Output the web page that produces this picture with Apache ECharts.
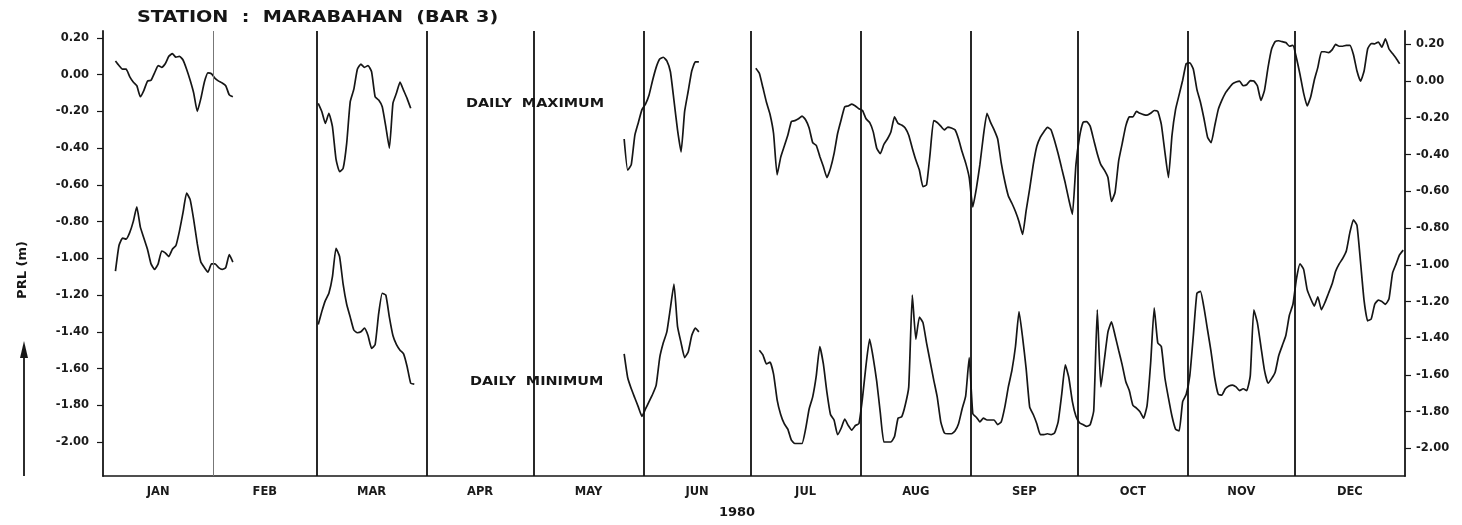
<!DOCTYPE html>
<html>
<head>
<meta charset="utf-8">
<script src="https://cdn.jsdelivr.net/npm/echarts@6/dist/echarts.min.js"></script>
<style>
html,body{margin:0;padding:0;background:#ffffff;}
#chart{width:1462px;height:525px;}
</style>
</head>
<body>
<div id="chart"></div>
<script>
// ---------------- DATA ----------------
const monthNames = ['JAN','FEB','MAR','APR','MAY','JUN','JUL','AUG','SEP','OCT','NOV','DEC'];
const monthDays = [31,29,31,30,31,30,31,31,30,31,30,31]; // 1980 (leap year)
const yTicks = [0.20,0.00,-0.20,-0.40,-0.60,-0.80,-1.00,-1.20,-1.40,-1.60,-1.80,-2.00];

// first day-of-year of each recorded stretch
const maxStart = [4, 61, 147, 184];
const minStart = [4, 61, 147, 185];

// Daily maximum water level (m, PRL)
const maxJan = [0.075,0.05,0.03,0.03,-0.01,-0.04,-0.06,-0.12,-0.085,-0.035,-0.03,0.01,0.05,0.04,0.06,0.10,0.115,0.095,0.10,0.08,0.03,-0.03,-0.10,-0.20,-0.13,-0.04,0.01,0.005,-0.02,-0.035,-0.045,-0.06,-0.11,-0.12];
const maxMar = [-0.156,-0.20,-0.265,-0.21,-0.283,-0.46,-0.528,-0.51,-0.374,-0.147,-0.08,0.03,0.058,0.04,0.05,0.016,-0.12,-0.138,-0.174,-0.283,-0.40,-0.156,-0.10,-0.04,-0.085,-0.13,-0.183];
const maxJun = [-0.35,-0.52,-0.49,-0.33,-0.26,-0.19,-0.16,-0.11,-0.03,0.04,0.085,0.095,0.075,0.016,-0.14,-0.30,-0.42,-0.20,-0.09,0.02,0.07,0.07];
const maxJulDec = [
  // Jul (from 2 Jul)
  0.035,0.008,-0.07,-0.15,-0.215,-0.32,-0.545,-0.45,-0.39,-0.33,-0.255,-0.25,-0.24,-0.225,-0.245,-0.29,-0.37,-0.385,-0.445,-0.50,-0.56,-0.51,-0.43,-0.32,-0.245,-0.175,-0.17,-0.16,-0.17,-0.185,
  // Aug
  -0.195,-0.24,-0.26,-0.31,-0.40,-0.43,-0.38,-0.35,-0.31,-0.23,-0.265,-0.274,-0.29,-0.33,-0.40,-0.465,-0.52,-0.61,-0.60,-0.43,-0.25,-0.26,-0.28,-0.30,-0.285,-0.29,-0.30,-0.35,-0.42,-0.48,-0.56,
  // Sep
  -0.72,-0.62,-0.49,-0.33,-0.21,-0.26,-0.30,-0.35,-0.48,-0.58,-0.66,-0.70,-0.745,-0.80,-0.87,-0.74,-0.62,-0.49,-0.39,-0.34,-0.31,-0.287,-0.30,-0.36,-0.43,-0.51,-0.59,-0.68,-0.76,-0.49,
  // Oct
  -0.34,-0.26,-0.255,-0.28,-0.355,-0.43,-0.49,-0.52,-0.56,-0.69,-0.64,-0.47,-0.375,-0.28,-0.23,-0.23,-0.20,-0.21,-0.217,-0.22,-0.21,-0.195,-0.20,-0.27,-0.42,-0.56,-0.33,-0.19,-0.11,-0.03,0.06,
  // Nov
  0.065,0.03,-0.08,-0.15,-0.24,-0.34,-0.37,-0.28,-0.19,-0.14,-0.10,-0.074,-0.05,-0.04,-0.035,-0.06,-0.055,-0.032,-0.034,-0.06,-0.14,-0.085,0.04,0.14,0.18,0.185,0.18,0.175,0.155,0.16,
  // Dec
  0.09,0.0,-0.10,-0.17,-0.12,-0.03,0.04,0.125,0.125,0.12,0.135,0.165,0.155,0.155,0.16,0.16,0.11,0.02,-0.035,0.02,0.14,0.17,0.168,0.178,0.15,0.195,0.14,0.115,0.09,0.06
];

// Daily minimum water level (m, PRL)
const minJan = [-1.07,-0.93,-0.89,-0.895,-0.86,-0.80,-0.72,-0.83,-0.89,-0.95,-1.03,-1.06,-1.03,-0.96,-0.97,-0.99,-0.95,-0.93,-0.85,-0.75,-0.645,-0.68,-0.79,-0.92,-1.02,-1.05,-1.075,-1.03,-1.03,-1.05,-1.06,-1.05,-0.98,-1.02];
const minMar = [-1.36,-1.29,-1.23,-1.19,-1.10,-0.945,-0.99,-1.14,-1.25,-1.32,-1.39,-1.405,-1.40,-1.38,-1.42,-1.49,-1.47,-1.30,-1.19,-1.20,-1.32,-1.42,-1.47,-1.50,-1.52,-1.59,-1.68,-1.685];
const minJun = [-1.52,-1.65,-1.71,-1.76,-1.81,-1.86,-1.82,-1.78,-1.74,-1.69,-1.54,-1.46,-1.40,-1.27,-1.14,-1.37,-1.46,-1.54,-1.51,-1.42,-1.38,-1.40];
const minJulDec = [
  // Jul (from 3 Jul)
  -1.50,-1.525,-1.575,-1.565,-1.63,-1.77,-1.85,-1.90,-1.93,-1.99,-2.008,-2.008,-2.008,-1.93,-1.82,-1.754,-1.64,-1.48,-1.575,-1.73,-1.85,-1.88,-1.96,-1.925,-1.875,-1.91,-1.935,-1.91,-1.90,
  // Aug
  -1.76,-1.58,-1.44,-1.54,-1.67,-1.84,-2.00,-2.00,-2.00,-1.97,-1.87,-1.863,-1.80,-1.70,-1.20,-1.44,-1.32,-1.35,-1.46,-1.56,-1.66,-1.754,-1.89,-1.95,-1.955,-1.955,-1.94,-1.90,-1.82,-1.75,-1.54,
  // Sep
  -1.845,-1.865,-1.89,-1.87,-1.88,-1.88,-1.88,-1.905,-1.89,-1.81,-1.70,-1.61,-1.48,-1.29,-1.43,-1.60,-1.81,-1.85,-1.90,-1.96,-1.96,-1.955,-1.96,-1.95,-1.89,-1.74,-1.58,-1.65,-1.78,-1.86,
  // Oct
  -1.895,-1.905,-1.915,-1.905,-1.83,-1.28,-1.70,-1.55,-1.40,-1.345,-1.42,-1.50,-1.58,-1.67,-1.72,-1.80,-1.815,-1.835,-1.87,-1.80,-1.57,-1.27,-1.46,-1.48,-1.65,-1.76,-1.86,-1.93,-1.94,-1.78,-1.74,
  // Nov
  -1.64,-1.42,-1.19,-1.18,-1.27,-1.39,-1.51,-1.65,-1.74,-1.745,-1.71,-1.695,-1.69,-1.70,-1.72,-1.71,-1.72,-1.64,-1.28,-1.35,-1.48,-1.61,-1.68,-1.655,-1.62,-1.53,-1.475,-1.42,-1.31,-1.25,
  // Dec
  -1.11,-1.03,-1.06,-1.17,-1.22,-1.26,-1.21,-1.28,-1.24,-1.19,-1.14,-1.07,-1.03,-1.00,-0.96,-0.86,-0.79,-0.82,-1.02,-1.23,-1.34,-1.33,-1.25,-1.227,-1.235,-1.25,-1.22,-1.08,-1.03,-0.98,-0.955
];

// ---------------- CHART ----------------
const maxSegs = [maxJan, maxMar, maxJun, maxJulDec];
const minSegs = [minJan, minMar, minJun, minJulDec];

const boundaries = [];
const mids = [];
let acc = 0.5;
monthDays.forEach((n, i) => {
  mids.push(acc + n / 2);
  acc += n;
  if (i < 11) boundaries.push(acc);
});

const Y_MIN = -2.185, Y_MAX = 0.238, RIGHT_SHIFT = 0.035;
const FONT = 'DejaVu Sans';
const INK = '#161616';

function segData(start, vals) { return vals.map((v, i) => [start + i, v]); }

const lineStyle = { color: INK, width: 1.7 };
const series = [];
maxSegs.forEach((vals, k) => series.push({
  type: 'line', name: 'DAILY MAXIMUM', data: segData(maxStart[k], vals),
  showSymbol: false, symbol: 'none', lineStyle, silent: true, animation: false, smooth: 0.15
}));
minSegs.forEach((vals, k) => series.push({
  type: 'line', name: 'DAILY MINIMUM', data: segData(minStart[k], vals),
  showSymbol: false, symbol: 'none', lineStyle, silent: true, animation: false, smooth: 0.15
}));
series[0].markLine = {
  silent: true, animation: false, symbol: ['none', 'none'],
  label: { show: false },
  lineStyle: { type: 'solid', color: '#111', width: 1.8 },
  data: boundaries.map((b, i) => ({
    xAxis: b,
    lineStyle: i === 0 ? { type: 'solid', color: '#777', width: 1 } : { type: 'solid', color: '#111', width: 1.8 }
  }))
};

const axisLabelStyle = { fontFamily: FONT, fontWeight: 'bold', fontSize: 11.5, color: '#1b1b1b' };

const option = {
  backgroundColor: '#ffffff',
  animation: false,
  grid: { left: 103, right: 57, top: 31, bottom: 49, containLabel: false },
  xAxis: {
    type: 'value', min: 0.5, max: 366.5,
    axisLine: { show: true, onZero: false, lineStyle: { color: INK, width: 1.6 } },
    axisTick: { show: false },
    splitLine: { show: false },
    axisLabel: Object.assign({}, axisLabelStyle, {
      customValues: mids, margin: 10,
      formatter: v => { const i = mids.findIndex(m => Math.abs(m - v) < 0.01); return i >= 0 ? monthNames[i] : ''; }
    })
  },
  yAxis: [
    {
      type: 'value', min: Y_MIN, max: Y_MAX, position: 'left',
      axisLine: { show: true, onZero: false, lineStyle: { color: INK, width: 1.8 } },
      axisTick: { show: true, length: 6, customValues: yTicks, lineStyle: { color: INK, width: 1.2 } },
      splitLine: { show: false },
      axisLabel: Object.assign({}, axisLabelStyle, { customValues: yTicks, margin: 14, formatter: v => v.toFixed(2) })
    },
    {
      type: 'value', min: Y_MIN + RIGHT_SHIFT, max: Y_MAX + RIGHT_SHIFT, position: 'right',
      axisLine: { show: true, onZero: false, lineStyle: { color: INK, width: 1.8 } },
      axisTick: { show: true, length: 6, customValues: yTicks, lineStyle: { color: INK, width: 1.2 } },
      splitLine: { show: false },
      axisLabel: Object.assign({}, axisLabelStyle, { customValues: yTicks, margin: 11, formatter: v => v.toFixed(2) })
    }
  ],
  series: series,
  graphic: [
    { type: 'text', x: 137, y: 18, scaleX: 1.28, silent: true,
      style: { text: 'STATION  :  MARABAHAN  (BAR 3)', font: 'bold 15px "DejaVu Sans"', fill: INK, align: 'left', verticalAlign: 'middle', textAlign: 'left', textVerticalAlign: 'middle' } },
    { type: 'text', x: 466, y: 104, scaleX: 1.2, silent: true,
      style: { text: 'DAILY  MAXIMUM', font: 'bold 12px "DejaVu Sans"', fill: INK, align: 'left', verticalAlign: 'middle', textAlign: 'left', textVerticalAlign: 'middle' } },
    { type: 'text', x: 470, y: 382, scaleX: 1.2, silent: true,
      style: { text: 'DAILY  MINIMUM', font: 'bold 12px "DejaVu Sans"', fill: INK, align: 'left', verticalAlign: 'middle', textAlign: 'left', textVerticalAlign: 'middle' } },
    { type: 'text', x: 737, y: 513, silent: true,
      style: { text: '1980', font: 'bold 13px "DejaVu Sans"', fill: INK, align: 'center', verticalAlign: 'middle', textAlign: 'center', textVerticalAlign: 'middle' } },
    { type: 'text', x: 23, y: 270, rotation: Math.PI / 2, silent: true,
      style: { text: 'PRL (m)', font: 'bold 13px "DejaVu Sans"', fill: INK, align: 'center', verticalAlign: 'middle', textAlign: 'center', textVerticalAlign: 'middle' } },
    { type: 'line', silent: true, shape: { x1: 24, y1: 476, x2: 24, y2: 352 }, style: { stroke: INK, lineWidth: 1.8 } },
    { type: 'polygon', silent: true, shape: { points: [[24, 341], [20, 358], [28, 358]] }, style: { fill: INK } }
  ]
};

const chart = echarts.init(document.getElementById('chart'), null, { renderer: 'canvas' });
chart.setOption(option);
</script>
</body>
</html>
